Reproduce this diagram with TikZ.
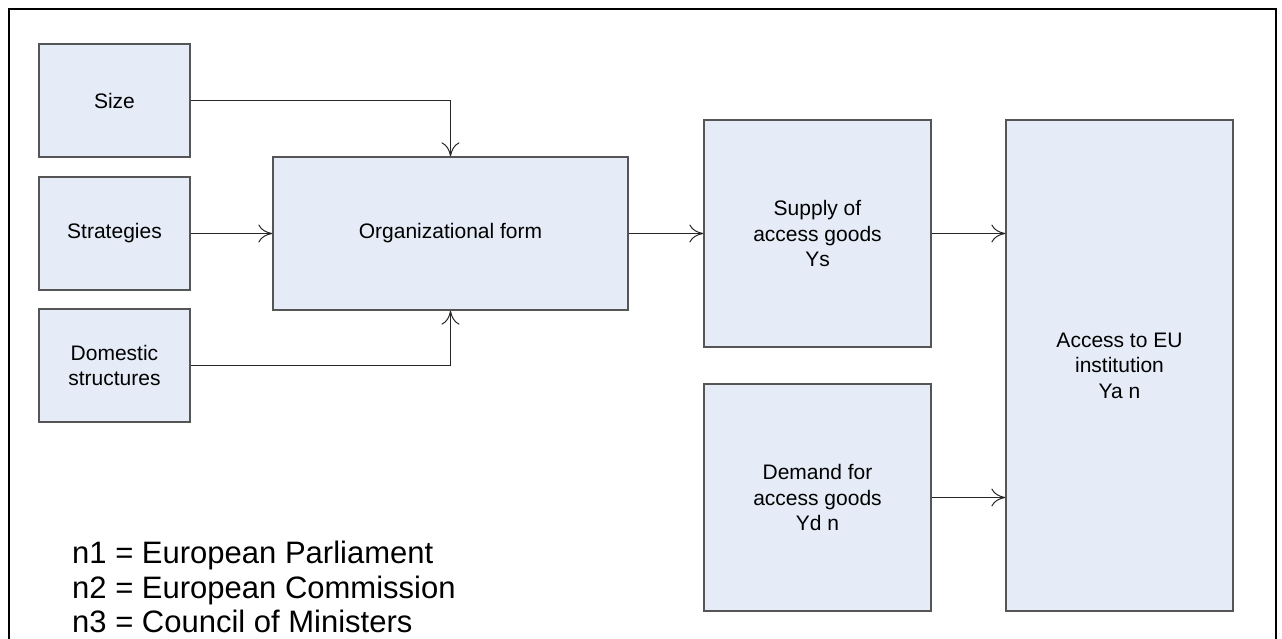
\documentclass[tikz,border=0pt]{standalone}
\usepackage{fontspec}
\setmainfont{Liberation Sans}
\usetikzlibrary{arrows.meta}
\definecolor{boxfill}{HTML}{E5ECF7}
\definecolor{boxline}{HTML}{555555}
\begin{document}
\begin{tikzpicture}[x=1pt,y=-1pt,
  blk/.style={draw=boxline,line width=1.3pt,fill=boxfill,rectangle,inner sep=0pt,
    align=center,font=\fontsize{21}{25.5}\selectfont},
  conn/.style={draw=black!85,line width=1pt,-{To[length=14pt,width=18pt]}},
  frame/.style={draw=black,line width=2pt}]
\useasboundingbox (0,0) rectangle (1282,639);
\draw[frame] (9,660) -- (9,9) -- (1276,9) -- (1276,660);
\node[blk,minimum width=151pt,minimum height=113pt] (size) at (114.5,100.5) {Size};
\node[blk,minimum width=151pt,minimum height=113pt] (strat) at (114.5,233.5) {Strategies};
\node[blk,minimum width=151pt,minimum height=113pt] (dom) at (114.5,365.5) {Domestic\\structures};
\node[blk,minimum width=355pt,minimum height=153pt] (org) at (450.5,233.5) {Organizational form};
\node[blk,minimum width=227pt,minimum height=227pt] (supply) at (817.5,233.5) {Supply of\\access goods\\Ys};
\node[blk,minimum width=227pt,minimum height=227pt] (demand) at (817.5,497.5) {Demand for\\access goods\\Yd n};
\node[blk,minimum width=227pt,minimum height=491pt] (access) at (1119.5,365.5) {Access to EU\\institution\\Ya n};
\node[anchor=west,align=left,inner sep=0pt,font=\fontsize{31}{34.5}\selectfont] (legend) at (72,587)
  {n1 = European Parliament\\n2 = European Commission\\n3 = Council of Ministers};
\draw[conn] (size.east) -| (org.north);
\draw[conn] (strat.east) -- (org.west);
\draw[conn] (dom.east) -| (org.south);
\draw[conn] (org.east) -- (supply.west);
\draw[conn] (supply.east) -- (supply.east -| access.west);
\draw[conn] (demand.east) -- (demand.east -| access.west);
\end{tikzpicture}
\end{document}
